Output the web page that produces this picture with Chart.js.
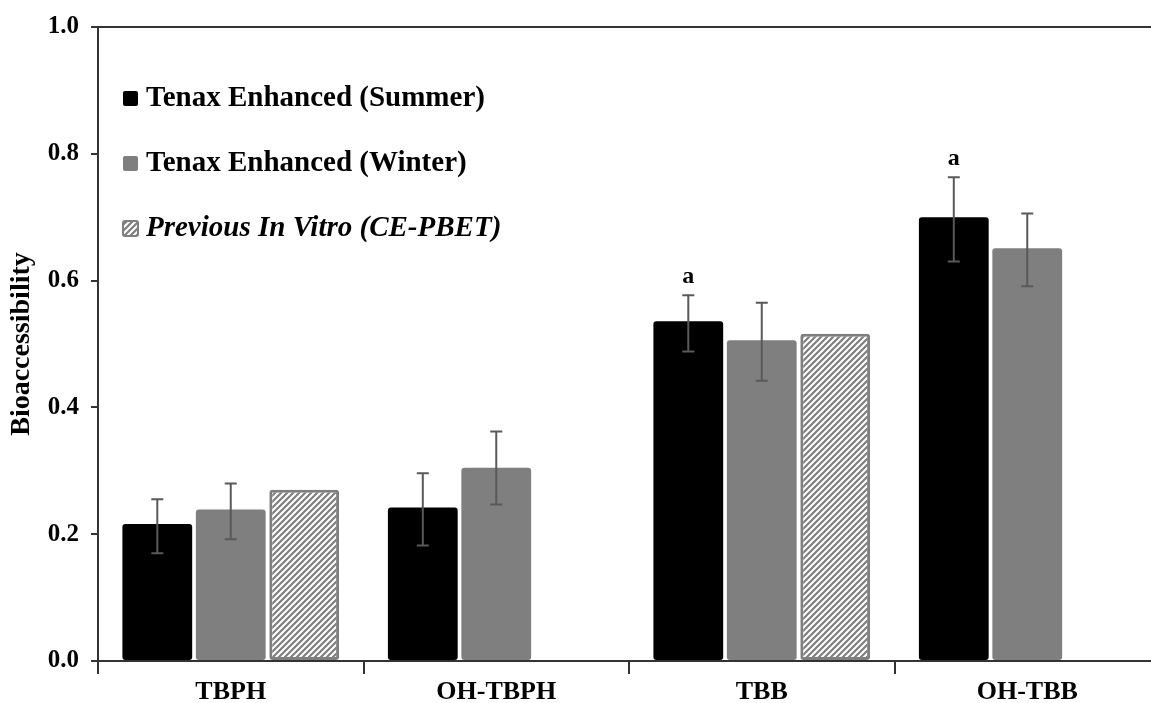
<!DOCTYPE html>
<html>
<head>
<meta charset="utf-8">
<script src="https://cdn.jsdelivr.net/npm/chart.js@4/dist/chart.umd.min.js"></script>
<style>
  html, body { margin: 0; padding: 0; background: #fff; overflow: hidden; }
  #wrap { width: 1200px; height: 703px; }
</style>
</head>
<body>
<div id="wrap"><canvas id="grafico" width="1200" height="703"></canvas></div>
<script>
// datos
const categorias = ["TBPH", "OH-TBPH", "TBB", "OH-TBB"];
const etiquetasY = ["0.0", "0.2", "0.4", "0.6", "0.8", "1.0"];

const verano = [0.216, 0.242, 0.536, 0.700];
const veranoAlto = [0.255, 0.296, 0.577, 0.763];
const veranoBajo = [0.170, 0.182, 0.488, 0.630];

const invierno = [0.239, 0.305, 0.506, 0.651];
const inviernoAlto = [0.280, 0.362, 0.565, 0.706];
const inviernoBajo = [0.192, 0.247, 0.442, 0.591];

const previo = [0.270, null, 0.516, null];

const letrasVerano = ["", "", "a", "a"];

const FUENTE = "'Liberation Serif', 'Times New Roman', serif";

// patron rayado
const hacerRayado = () => {
    const c = document.createElement("canvas");
    c.width = 6; c.height = 6;
    const g = c.getContext("2d");
    g.fillStyle = "#ffffff";
    g.fillRect(0, 0, 6, 6);
    g.strokeStyle = "#7f7f7f";
    g.lineWidth = 2.2;
    g.beginPath();
    g.moveTo(-1, 7); g.lineTo(7, -1);
    g.moveTo(-4, 4); g.lineTo(4, -4);
    g.moveTo(2, 10); g.lineTo(10, 2);
    g.stroke();
    return g.createPattern(c, "repeat");
};

const ctx = document.getElementById("grafico").getContext("2d");
const rayado = hacerRayado();

// barras de error + letras
const errorPlugin = {
    id: "errores",
    afterDatasetsDraw(chart) {
        const c = chart.ctx;
        const y = chart.scales.y;
        const pares = [[0, veranoAlto, veranoBajo], [1, inviernoAlto, inviernoBajo]];
        c.save();
        c.strokeStyle = "#595959";
        c.lineWidth = 2;
        pares.forEach(([idx, alto, bajo]) => {
            const meta = chart.getDatasetMeta(idx);
            meta.data.forEach((bar, i) => {
                const x = bar.x;
                const yA = y.getPixelForValue(alto[i]);
                const yB = y.getPixelForValue(bajo[i]);
                c.beginPath();
                c.moveTo(x, yA); c.lineTo(x, yB);
                c.moveTo(x - 6, yA); c.lineTo(x + 6, yA);
                c.moveTo(x - 6, yB); c.lineTo(x + 6, yB);
                c.stroke();
            });
        });
        c.fillStyle = "#000";
        c.font = "bold 24px " + FUENTE;
        c.textAlign = "center";
        c.textBaseline = "alphabetic";
        const meta0 = chart.getDatasetMeta(0);
        meta0.data.forEach((bar, i) => {
            if (letrasVerano[i]) {
                c.fillText(letrasVerano[i], bar.x, y.getPixelForValue(veranoAlto[i]) - 12);
            }
        });
        c.restore();
    }
};

// leyenda dentro del area
const leyendaPlugin = {
    id: "leyendaDentro",
    afterDraw(chart) {
        const c = chart.ctx;
        const filas = [98, 163, 228];
        c.save();
        chart.data.datasets.forEach((ds, i) => {
            const yc = filas[i];
            c.fillStyle = ds.backgroundColor;
            c.beginPath();
            c.roundRect(123, yc - 7, 15, 15, 2);
            c.fill();
            if (ds.borderWidth) {
                c.strokeStyle = ds.borderColor;
                c.lineWidth = 2;
                c.stroke();
            }
            c.fillStyle = "#000";
            c.font = (i === 2 ? "italic bold 29px " : "bold 29px ") + FUENTE;
            c.textBaseline = "middle";
            c.textAlign = "left";
            c.fillText(ds.label, 146, yc + 1);
        });
        // linea superior
        const a = chart.chartArea;
        c.strokeStyle = "#333";
        c.lineWidth = 2;
        c.beginPath();
        c.moveTo(a.left, a.top);
        c.lineTo(chart.width, a.top);
        c.stroke();
        c.restore();
    }
};

var miGrafico = new Chart(ctx, {
    type: "bar",
    data: {
        labels: categorias,
        datasets: [
            {
                label: "Tenax Enhanced (Summer)",
                data: verano,
                backgroundColor: "#000000",
                borderRadius: 3,
                borderSkipped: false
            },
            {
                label: "Tenax Enhanced (Winter)",
                data: invierno,
                backgroundColor: "#7f7f7f",
                borderRadius: 3,
                borderSkipped: false
            },
            {
                label: "Previous In Vitro (CE-PBET)",
                data: previo,
                backgroundColor: rayado,
                borderColor: "#7f7f7f",
                borderWidth: 3,
                borderRadius: 3,
                borderSkipped: false
            }
        ]
    },
    options: {
        responsive: false,
        animation: false,
        layout: { padding: { top: 25, right: 40, left: 0, bottom: 0 } },
        datasets: { bar: { categoryPercentage: 0.83, barPercentage: 0.95 } },
        plugins: {
            legend: { display: false },
            tooltip: { enabled: false }
        },
        scales: {
            x: {
                afterFit: (s) => { s.height = 42; },
                grid: {
                    offset: true,
                    drawOnChartArea: false,
                    tickLength: 13,
                    color: "#333",
                    lineWidth: 2
                },
                border: { color: "#333", width: 2 },
                ticks: {
                    color: "#000",
                    padding: 3,
                    font: { family: FUENTE, size: 26, weight: "bold" }
                }
            },
            y: {
                min: 0,
                max: 1,
                afterFit: (s) => { s.width = 98; },
                afterBuildTicks: (s) => {
                    s.ticks = etiquetasY.map((t) => ({ value: parseFloat(t) }));
                },
                grid: {
                    drawOnChartArea: false,
                    tickLength: 7,
                    color: "#333",
                    lineWidth: 2
                },
                border: { color: "#333", width: 2 },
                ticks: {
                    color: "#000",
                    padding: 12,
                    font: { family: FUENTE, size: 25, weight: "bold" },
                    callback: (v) => etiquetasY.find((t) => parseFloat(t) === v)
                },
                title: {
                    display: true,
                    text: "Bioaccessibility",
                    color: "#000",
                    padding: { top: 5, bottom: 0 },
                    font: { family: FUENTE, size: 28, weight: "bold" }
                }
            }
        }
    },
    plugins: [errorPlugin, leyendaPlugin]
});
</script>
</body>
</html>
